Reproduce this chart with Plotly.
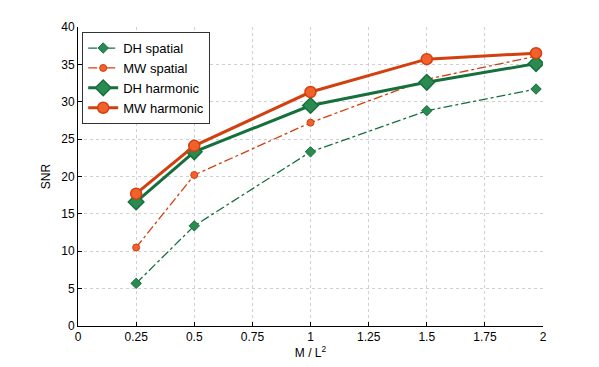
import plotly.graph_objects as go

x = [0.25, 0.5, 1.0, 1.5, 1.97]
dh_spatial = [5.7, 13.4, 23.3, 28.8, 31.7]
mw_spatial = [10.5, 20.2, 27.2, 33.0, 36.1]
dh_harmonic = [16.6, 23.3, 29.5, 32.6, 35.1]
mw_harmonic = [17.7, 24.1, 31.3, 35.7, 36.5]

green = "#16703e"
green_fill = "#2a8a50"
red = "#d2400f"
red_fill = "#f2612c"

fig = go.Figure()
fig.add_trace(go.Scatter(x=x, y=dh_spatial, name="DH spatial", mode="lines+markers",
                         line=dict(color=green, width=1.3, dash="dashdot"),
                         marker=dict(symbol="diamond", size=8, color=green_fill,
                                     line=dict(color=green, width=1))))
fig.add_trace(go.Scatter(x=x, y=mw_spatial, name="MW spatial", mode="lines+markers",
                         line=dict(color=red, width=1.3, dash="dashdot"),
                         marker=dict(symbol="circle", size=7, color=red_fill,
                                     line=dict(color=red, width=1))))
fig.add_trace(go.Scatter(x=x, y=dh_harmonic, name="DH harmonic", mode="lines+markers",
                         line=dict(color=green, width=3),
                         marker=dict(symbol="diamond", size=12, color=green_fill,
                                     line=dict(color=green, width=1.5))))
fig.add_trace(go.Scatter(x=x, y=mw_harmonic, name="MW harmonic", mode="lines+markers",
                         line=dict(color=red, width=3),
                         marker=dict(symbol="circle", size=11, color=red_fill,
                                     line=dict(color=red, width=1.5))))

axis_style = dict(showgrid=True, gridcolor="#d0d0d0", griddash="dot", gridwidth=1,
                  showline=True, linecolor="black", linewidth=1,
                  ticks="inside", ticklen=4, tickcolor="black",
                  zeroline=False, tickfont=dict(size=12, color="black"))

fig.update_layout(
    width=591, height=359,
    margin=dict(l=70, r=56, t=19, b=41),
    paper_bgcolor="white", plot_bgcolor="white",
    font=dict(family="Liberation Sans, Arial", size=12, color="black"),
    showlegend=True,
    legend=dict(x=0.009, y=0.983, xanchor="left", yanchor="top",
                bgcolor="white", bordercolor="#333333", borderwidth=1,
                font=dict(size=13), tracegroupgap=0, itemwidth=30),
    xaxis=dict(range=[0, 2], tickvals=[0, 0.25, 0.5, 0.75, 1, 1.25, 1.5, 1.75, 2],
               ticktext=["0", "0.25", "0.5", "0.75", "1", "1.25", "1.5", "1.75", "2"],
               title=dict(text="M / L<sup>2</sup>", standoff=3, font=dict(size=12)),
               **axis_style),
    yaxis=dict(range=[0, 40], dtick=5,
               title=dict(text="SNR", standoff=8, font=dict(size=12)),
               **axis_style),
)

fig.write_html("out.html")
